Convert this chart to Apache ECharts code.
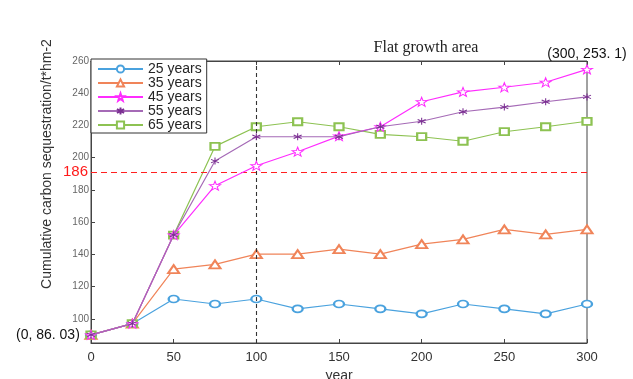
<!DOCTYPE html>
<html><head><meta charset="utf-8">
<script src="https://cdn.jsdelivr.net/npm/echarts@6/dist/echarts.min.js"></script>
<style>html,body{margin:0;padding:0;background:#fff}#c{width:633px;height:379px}</style>
</head><body><div id="c"></div>
<script>
const years = [0,25,50,75,100,125,150,175,200,225,250,275,300];
const s25 = [90,97,112.3,109.2,112.3,106.2,109.2,106.2,103.1,109.2,106.2,103.1,109.2];
const s35 = [90,97,130.9,133.8,140.2,140.2,143.3,140.2,146.4,149.3,155.5,152.4,155.5];
const s45 = [90,97,152,182.6,195,203.7,213.4,219.2,234.7,240.8,243.7,246.8,254.8];
const s55 = [90,97,152,197.9,213,213,213,219.2,222.6,228.5,231.4,234.7,237.7];
const s65 = [90,97,152,207,219.2,222.3,219.2,214.5,213,210.2,216.1,219.2,222.6];
const yTicks = [100,120,140,160,180,200,220,240,260];
const names = ['25 years','35 years','45 years','55 years','65 years'];
const refLineValue = 191, refLineLabel = '186';
const divideYear = 100;
const startLabel = '(0, 86. 03)';
const endLabel = '(300, 253. 1)';

const STAR = 'path://M0,-10L2.35,-3.24L9.51,-3.09L3.8,1.24L5.88,8.09L0,4L-5.88,8.09L-3.8,1.24L-9.51,-3.09L-2.35,-3.24Z';
const AST = 'path://M0,-10L0,10M-8.66,-5L8.66,5M-8.66,5L8.66,-5M0,-10';
const pairs = arr => years.map((x,i)=>[x,arr[i]]);
const annoFont = {fontFamily:'Liberation Sans', fontSize:14, color:'#111'};

function mk(name, arr, color, symbol, size, itemStyle, z, lineColor){
  return {name, type:'line', data:pairs(arr), symbol, symbolSize:size, z,
    lineStyle:{color: lineColor||color, width:1.2}, itemStyle, emphasis:{disabled:true}};
}
const series = [
  mk(names[0], s25, '#4aa2de', 'emptyCircle', [10,7], {color:'#4aa2de', borderWidth:1}, 2),
  mk(names[1], s35, '#f08459', 'emptyTriangle', [11,8], {color:'#f08459', borderWidth:1}, 3),
  mk(names[4], s65, '#8dc252', 'emptyRect', [9,7], {color:'#8dc252', borderWidth:1}, 4),
  mk(names[2], s45, '#ff2cff', STAR, [11,9], {color:'#ffffff', borderColor:'#ff2cff', borderWidth:1}, 5),
  mk(names[3], s55, '#a56ab6', AST, [8,7], {color:'#7b2f92', borderColor:'#7b2f92', borderWidth:1}, 6, '#a56ab6')
];
series[0].data[0] = {value:[years[0], s25[0]], label:{show:true, position:'left', distance:5, formatter:startLabel, ...annoFont}};
series[3].data[years.length-1] = {value:[years[years.length-1], s45[s45.length-1]], label:{show:true, position:'top', distance:3, formatter:endLabel, ...annoFont}};
series[0].markLine = {silent:true, symbol:'none', animation:false,
  data:[
    {yAxis:refLineValue, lineStyle:{color:'#ff2020', type:[6,4], width:1.2},
      label:{show:true, position:'start', formatter:refLineLabel, color:'#ff1a1a', fontSize:15, fontFamily:'Liberation Sans', distance:3}},
    {xAxis:divideYear, lineStyle:{color:'#333', type:[4,3], width:1.1}, label:{show:false}}
  ]};

const chart = echarts.init(document.getElementById('c'));
chart.setOption({
  animation:false,
  backgroundColor:'#fff',
  title:{text:'Flat growth area', left:421, textAlign:'center', top:35,
    textStyle:{fontFamily:'Liberation Serif', fontSize:16, fontWeight:'normal', color:'#222'}},
  grid:{left:91, right:46, top:61, bottom:36, show:true, borderColor:'#444', borderWidth:1, backgroundColor:'transparent',
    containLabel:false, outerBoundsMode:'none'},
  legend:{orient:'vertical', left:91, top:59, data:names, backgroundColor:'#fff', borderColor:'#333', borderWidth:1,
    padding:[3,5,1,6], itemWidth:45, itemHeight:9, itemGap:0, borderRadius:0,
    textStyle:{fontFamily:'Liberation Sans', fontSize:14, lineHeight:13.2, color:'#262626'}},
  xAxis:[{type:'value', min:0, max:300, interval:50, name:'year', nameLocation:'middle', nameGap:23,
    nameTextStyle:{fontFamily:'Liberation Sans', fontSize:14, color:'#333'},
    axisLine:{lineStyle:{color:'#444'}}, axisTick:{inside:true, length:4, lineStyle:{color:'#444'}},
    axisLabel:{fontFamily:'Liberation Sans', fontSize:13, color:'#333', margin:8}, splitLine:{show:false}},
    {type:'value', position:'top', min:0, max:300, interval:50, axisLine:{lineStyle:{color:'#444'}},
    axisTick:{inside:true, length:4, lineStyle:{color:'#444'}}, axisLabel:{show:false}, splitLine:{show:false}}],
  yAxis:{type:'value', min:85, max:260, name:'Cumulative carbon sequestration/t*hm-2', nameLocation:'middle', nameGap:37,
    nameTextStyle:{fontFamily:'Liberation Sans', fontSize:14, color:'#333', padding:[0,0,0,76]},
    axisLine:{lineStyle:{color:'#444'}},
    axisTick:{inside:true, length:4, customValues:yTicks, lineStyle:{color:'#444'}},
    axisLabel:{customValues:yTicks, fontFamily:'Liberation Sans', fontSize:10, color:'#666', margin:2},
    splitLine:{show:false}},
  series
});
</script></body></html>
